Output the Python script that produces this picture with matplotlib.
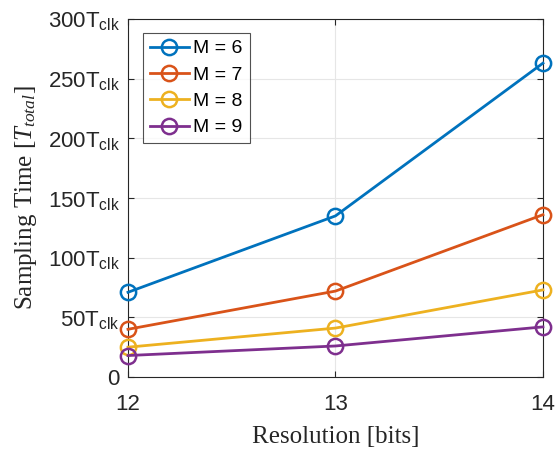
import matplotlib
matplotlib.use("Agg")
from matplotlib import pyplot as plt

resolution = [12, 13, 14]
m6 = [71, 135, 263]
m7 = [40, 72, 136]
m8 = [25, 41, 73]
m9 = [18, 26, 42]
labels = ["M = 6", "M = 7", "M = 8", "M = 9"]
colors = ["#0072BD", "#D95319", "#EDB120", "#7E2F8E"]
yticks = [0, 50, 100, 150, 200, 250, 300]

plt.rcParams["font.family"] = ["Liberation Sans", "DejaVu Sans"]
plt.rcParams["mathtext.fontset"] = "custom"
plt.rcParams["mathtext.rm"] = "Liberation Sans"
plt.rcParams["mathtext.it"] = "Liberation Serif:italic"


def main() -> None:
    fig = plt.figure(figsize=(5.57, 4.5), dpi=100)
    ax = fig.add_axes([0.2298, 0.1622, 0.745, 0.7956])
    for ys, lab, c in zip([m6, m7, m8, m9], labels, colors):
        ax.plot(resolution, ys, color=c, lw=2, marker="o", ms=11,
                mfc="none", mew=1.8, label=lab, clip_on=False, zorder=3)
    ax.set_xlim(12, 14)
    ax.set_ylim(0, 300)
    ax.set_xticks(resolution)
    ax.set_yticks(yticks)
    ax.set_yticklabels(["0"] + [f"{v}T$_{{\\mathrm{{clk}}}}$" for v in yticks[1:]])
    ax.tick_params(direction="in", labelsize=16, colors="#262626", length=4,
                   top=True, right=True)
    ax.tick_params(axis="x", pad=12)
    ax.tick_params(axis="y", pad=6)
    ax.grid(True, color="#e6e6e6", lw=0.8)
    ax.set_axisbelow(True)
    for s in ax.spines.values():
        s.set_color("#262626")
        s.set_linewidth(0.8)
    ax.set_xlabel("Resolution [bits]", family="Liberation Serif", fontsize=18,
                  color="#262626", labelpad=8)
    ax.set_ylabel("Sampling Time [$T_{total}$]", family="Liberation Serif",
                  fontsize=18, color="#262626", labelpad=6)
    leg = ax.legend(loc="upper left", fontsize=14, fancybox=False,
                    edgecolor="#262626", handlelength=2.0, borderpad=0.35,
                    labelspacing=0.45, handletextpad=0.25, borderaxespad=0,
                    bbox_to_anchor=(0.036, 0.961))
    leg.get_frame().set_linewidth(0.8)
    fig.savefig("out.png", dpi=100)


if __name__ == "__main__":
    main()
